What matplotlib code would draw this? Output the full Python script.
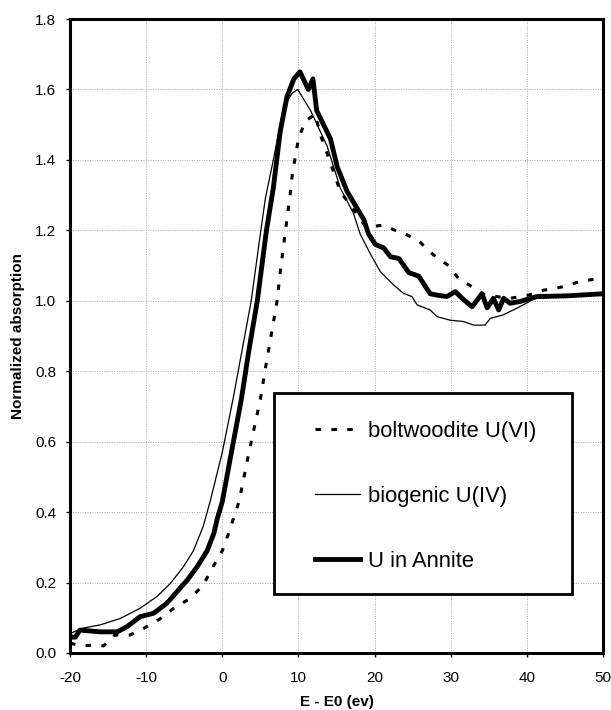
import matplotlib
matplotlib.use('Agg')
import matplotlib.pyplot as plt
from matplotlib.patches import Rectangle

plt.rcParams['font.family'] = ['Liberation Sans', 'DejaVu Sans']
plt.rcParams['axes.unicode_minus'] = False

# boltwoodite U(VI), dashed
bolt_x = [-20, -18.5, -16.5, -15.6, -14.1, -12.1, -10.3, -8.1, -6.2, -4.2, -2.5, -1.35,
          0.0, 0.83, 2.2, 3.6, 5.0, 5.6, 7.2, 7.6, 8.3, 8.9, 9.2, 10.0, 10.9, 12.2, 12.9,
          13.75, 15.5, 17.2, 18.5, 19.4, 21.2, 22.7, 24.0, 25.8, 27.75, 29.7, 31.0, 32.8,
          34.5, 37.8, 40.2, 42.2, 44.8, 47.0, 50]
bolt_y = [0.028, 0.02, 0.023, 0.02, 0.051, 0.051, 0.07, 0.098, 0.13, 0.155, 0.193, 0.24,
          0.29, 0.34, 0.43, 0.58, 0.72, 0.8, 1.0, 1.08, 1.2, 1.3, 1.36, 1.46, 1.51, 1.53, 1.47,
          1.42, 1.31, 1.26, 1.22, 1.21, 1.215, 1.20, 1.19, 1.17, 1.13, 1.10, 1.064, 1.04,
          1.016, 1.007, 1.016, 1.03, 1.04, 1.055, 1.065]

# biogenic U(IV), thin
bio_x = [-20, -18.4, -16, -13.4, -10.8, -8.6, -6.8, -5.1, -3.8, -2.5, -1.6, 0.0, 1.4, 2.6,
         3.8, 5.0, 5.65, 6.7, 8.05, 8.6, 9.2, 9.9, 11.6, 13.75, 15.5, 17.2, 18.1, 19.4, 20.75,
         22.5, 23.8, 24.9, 25.6, 27.3, 28.2, 29.9, 31.7, 33.0, 34.5, 35.2, 36.9, 38.7, 41.1,
         45, 50]
bio_y = [0.055, 0.07, 0.08, 0.098, 0.127, 0.16, 0.198, 0.245, 0.29, 0.36, 0.43, 0.57, 0.72,
         0.86, 1.0, 1.19, 1.29, 1.40, 1.55, 1.57, 1.59, 1.60, 1.54, 1.44, 1.32, 1.25, 1.19,
         1.135, 1.083, 1.045, 1.021, 1.012, 0.988, 0.974, 0.955, 0.945, 0.941, 0.931, 0.931,
         0.950, 0.96, 0.979, 1.007, 1.012, 1.02]

# U in Annite, thick
ann_x = [-20, -19.3, -18.7, -16, -13.8, -12.5, -10.8, -9.0, -7.3, -5.95, -4.6, -3.3, -2.0,
         -1.1, -0.7, 0.0, 1.2, 2.5, 3.5, 4.6, 5.8, 6.7, 7.6, 8.5, 9.4, 10.2, 11.3, 11.9, 12.4,
         14.2, 15.1, 16.4, 17.5, 18.6, 19.2, 20.1, 21.2, 22.1, 23.2, 24.5, 25.8, 26.4, 27.3,
         28.2, 29.5, 30.6, 31.5, 32.8, 34.1, 34.8, 35.6, 36.3, 36.95, 37.8, 39.1, 41.3, 45.3, 50]
ann_y = [0.045, 0.045, 0.065, 0.06, 0.06, 0.075, 0.103, 0.113, 0.141, 0.174, 0.207, 0.245,
         0.29, 0.34, 0.378, 0.43, 0.57, 0.72, 0.86, 1.0, 1.2, 1.32, 1.48, 1.58, 1.63, 1.65,
         1.60, 1.63, 1.54, 1.46, 1.38, 1.31, 1.27, 1.23, 1.19, 1.16, 1.15, 1.125, 1.12, 1.08,
         1.07, 1.05, 1.02, 1.016, 1.012, 1.026, 1.007, 0.983, 1.02, 0.98, 1.007, 0.974, 1.007,
         0.993, 0.998, 1.012, 1.014, 1.02]

labels = ['boltwoodite U(VI)', 'biogenic U(IV)', 'U in Annite']
x_ticks = [-20, -10, 0, 10, 20, 30, 40, 50]
y_ticks = [0.0, 0.2, 0.4, 0.6, 0.8, 1.0, 1.2, 1.4, 1.6, 1.8]

fig = plt.figure(figsize=(6.11, 7.10), dpi=100)
ax = fig.add_axes([0.1146, 0.0803, 0.8723, 0.8929])

ax.plot(bolt_x, bolt_y, color='black', lw=2.2, linestyle=(0, (1.8, 3.4)),
        dash_capstyle='butt', label=labels[0])
ax.plot(bio_x, bio_y, color='black', lw=0.9, label=labels[1])
ax.plot(ann_x, ann_y, color='black', lw=3.5, label=labels[2])

ax.set_xlim(-20, 50)
ax.set_ylim(0, 1.8)
ax.set_xticks(x_ticks)
ax.set_yticks(y_ticks)
ax.set_yticklabels(['%.1f' % v for v in y_ticks])
ax.grid(True, color='#a8a8a8', linestyle=(0, (1, 1.5)), lw=0.7)
ax.set_axisbelow(True)
for s in ax.spines.values():
    s.set_linewidth(2.2)
ax.tick_params(direction='out', length=3, width=1, labelsize=11)
ax.tick_params(axis='x', pad=10)
ax.tick_params(axis='y', pad=7)

ax.set_xlabel('E - E0 (ev)', fontsize=11, fontweight='bold', labelpad=7)
ax.set_ylabel('Normalized absorption', fontsize=11, fontweight='bold', labelpad=7)

# legend box
box = Rectangle((0.383, 0.093), 0.559, 0.317, transform=ax.transAxes, facecolor='white',
                edgecolor='black', lw=2.0, zorder=4)
ax.add_patch(box)
leg = ax.legend(loc='upper left', bbox_to_anchor=(0.4597, 0.366), fontsize=15.8,
                frameon=False, borderpad=0, labelspacing=2.0, handlelength=2.05,
                handletextpad=0.35, borderaxespad=0)
leg.set_zorder(5)

fig.savefig('out.png', dpi=100)
